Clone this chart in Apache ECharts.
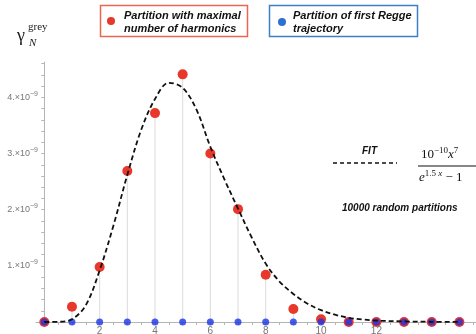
<!DOCTYPE html>
<html>
<head>
<meta charset="utf-8">
<script src="https://cdn.jsdelivr.net/npm/echarts@6/dist/echarts.min.js"></script>
<style>html,body{margin:0;padding:0;background:#fff;}#c{width:476px;height:334px;}</style>
</head>
<body>
<div id="c"></div>
<script>
// Partition index N
const partitionN = [0,1,2,3,4,5,6,7,8,9,10,11,12,13,14,15];
// Partition with maximal number of harmonics
const maxHarmonics = [0,0.27e-9,0.98e-9,2.69e-9,3.72e-9,4.41e-9,3.00e-9,2.01e-9,0.84e-9,0.23e-9,0.05e-9,0,0,0,0,0];
// Partition of first Regge trajectory
const reggeTrajectory = [0,0,0,0,0,0,0,0,0,0,0,0,0,0,0,0];
// FIT curve
const fitX = [0,0.5,1,1.5,2,2.5,3,3.5,4,4.5,5,5.5,6,6.5,7,7.5,8,8.5,9,9.5,10,10.5,11,11.5,12,13,14,15];
const fitY = [0,0.003e-9,0.05e-9,0.30e-9,0.92e-9,1.72e-9,2.62e-9,3.42e-9,3.97e-9,4.26e-9,4.17e-9,3.78e-9,3.12e-9,2.55e-9,2.02e-9,1.50e-9,1.04e-9,0.72e-9,0.50e-9,0.33e-9,0.21e-9,0.13e-9,0.075e-9,0.045e-9,0.025e-9,0.01e-9,0.004e-9,0.001e-9];
// Tick labels
const xTickLabels = [2,4,6,8,10,12];
const yTickLabels = [1e-9,2e-9,3e-9,4e-9];

const xTicks = [];
for (let i = 0; i <= 31; i++) xTicks.push(i * 0.5);
const yTicks = [];
for (let i = 1; i <= 23; i++) yTicks.push(i * 0.2e-9);

const chart = echarts.init(document.getElementById('c'), null, {renderer: 'canvas'});
const axisGrey = '#b5b5b5';
chart.setOption({
  animation: false,
  grid: {left: 36, right: 0, top: 62, bottom: 12, containLabel: false, outerBoundsMode: 'none'},
  xAxis: {
    type: 'value', min: -0.3, max: 15.6,
    axisLine: {onZero: true, lineStyle: {color: axisGrey, width: 1}},
    axisTick: {show: true, length: 3, customValues: xTicks, lineStyle: {color: axisGrey}},
    axisLabel: {customValues: xTickLabels, color: '#777', fontSize: 10, margin: 4, fontFamily: 'Liberation Sans'},
    splitLine: {show: false}
  },
  yAxis: {
    type: 'value', min: 0, max: 4.63e-9,
    axisLine: {show: true, onZero: true, lineStyle: {color: axisGrey, width: 1}},
    axisTick: {show: true, length: 3, customValues: yTicks, lineStyle: {color: axisGrey}},
    axisLabel: {
      customValues: yTickLabels, color: '#777', fontSize: 9, margin: -2, fontFamily: 'Liberation Sans',
      formatter: function (v) { return '{a|' + Math.round(v / 1e-9) + '.\u00d710}{s|\u22129}'; },
      rich: {
        a: {fontSize: 9, color: '#777', fontFamily: 'Liberation Sans'},
        s: {fontSize: 7, color: '#777', fontFamily: 'Liberation Sans', padding: [0, 0, 7, 0]}
      }
    },
    splitLine: {show: false}
  },
  series: [
    {
      type: 'bar', name: 'stems', barWidth: 1, silent: true,
      itemStyle: {color: '#dcdcdc'},
      data: partitionN.map((x, i) => [x, maxHarmonics[i]]), z: 1
    },
    {
      type: 'scatter', name: 'Partition with maximal number of harmonics', clip: false,
      symbolSize: 10, itemStyle: {color: '#e8372b', opacity: 1},
      data: partitionN.map((x, i) => [x, maxHarmonics[i]]), z: 3
    },
    {
      type: 'scatter', name: 'Partition of first Regge trajectory', clip: false,
      symbolSize: 7, itemStyle: {color: '#1c35e6'},
      data: partitionN.map((x, i) => [x, reggeTrajectory[i]]), z: 4
    },
    {
      type: 'line', name: 'FIT', smooth: 0.35, showSymbol: false, symbol: 'none', clip: false,
      lineStyle: {color: '#111', width: 1.8, type: [5, 3]},
      data: fitX.map((x, i) => [x, fitY[i]]), z: 5
    }
  ],
  graphic: [
    // y axis title
    {type: 'text', left: 17, top: 27, style: {text: '\u03b3', font: '18px "Liberation Serif"', fill: '#222'}},
    {type: 'text', left: 28, top: 22, style: {text: 'grey', font: '11px "Liberation Serif"', fill: '#222'}},
    {type: 'text', left: 29, top: 38, style: {text: 'N', font: 'italic 11px "Liberation Serif"', fill: '#222'}},
    // legend box 1
    {type: 'rect', shape: {x: 100.5, y: 5.5, width: 147, height: 31}, style: {fill: '#fff', stroke: '#ec6550', lineWidth: 1.5}},
    {type: 'circle', shape: {cx: 111, cy: 21, r: 4}, style: {fill: '#e8372b'}},
    {type: 'text', left: 124, top: 9, style: {text: 'Partition with maximal\nnumber of harmonics', font: 'italic bold 11px "Liberation Sans"', fill: '#111', lineHeight: 13}},
    // legend box 2
    {type: 'rect', shape: {x: 269.5, y: 5.5, width: 148, height: 31}, style: {fill: '#fff', stroke: '#3e7fc8', lineWidth: 1.5}},
    {type: 'circle', shape: {cx: 282, cy: 22, r: 4}, style: {fill: '#2f6fd0'}},
    {type: 'text', left: 293, top: 9, style: {text: 'Partition of first Regge\ntrajectory', font: 'italic bold 11px "Liberation Sans"', fill: '#111', lineHeight: 13}},
    // FIT annotation
    {type: 'text', left: 362, top: 146, style: {text: 'FIT', font: 'italic bold 10px "Liberation Sans"', fill: '#111'}},
    {type: 'line', shape: {x1: 333, y1: 163, x2: 397, y2: 163}, style: {stroke: '#111', lineWidth: 1.6, lineDash: [4, 3]}},
    {type: 'text', left: 421, top: 146, style: {
      text: '{n|10}{s|\u221210}{xi|x}{s|7}',
      rich: {
        n: {font: '13px "Liberation Serif"', fill: '#111'},
        xi: {font: 'italic 13px "Liberation Serif"', fill: '#111'},
        s: {font: '9px "Liberation Serif"', fill: '#111', padding: [0, 0, 8, 0]}
      }
    }},
    {type: 'line', shape: {x1: 418, y1: 166, x2: 476, y2: 166}, style: {stroke: '#111', lineWidth: 1}},
    {type: 'text', left: 419, top: 169, style: {
      text: '{xi|e}{s|1.5}{si| x}{n| \u2212 1}',
      rich: {
        n: {font: '13px "Liberation Serif"', fill: '#111'},
        xi: {font: 'italic 13px "Liberation Serif"', fill: '#111'},
        s: {font: '9px "Liberation Serif"', fill: '#111', padding: [0, 0, 8, 0]},
        si: {font: 'italic 9px "Liberation Serif"', fill: '#111', padding: [0, 0, 8, 0]}
      }
    }},
    {type: 'text', left: 342, top: 203, style: {text: '10000 random partitions', font: 'italic bold 10px "Liberation Sans"', fill: '#111'}}
  ]
});
</script>
</body>
</html>
